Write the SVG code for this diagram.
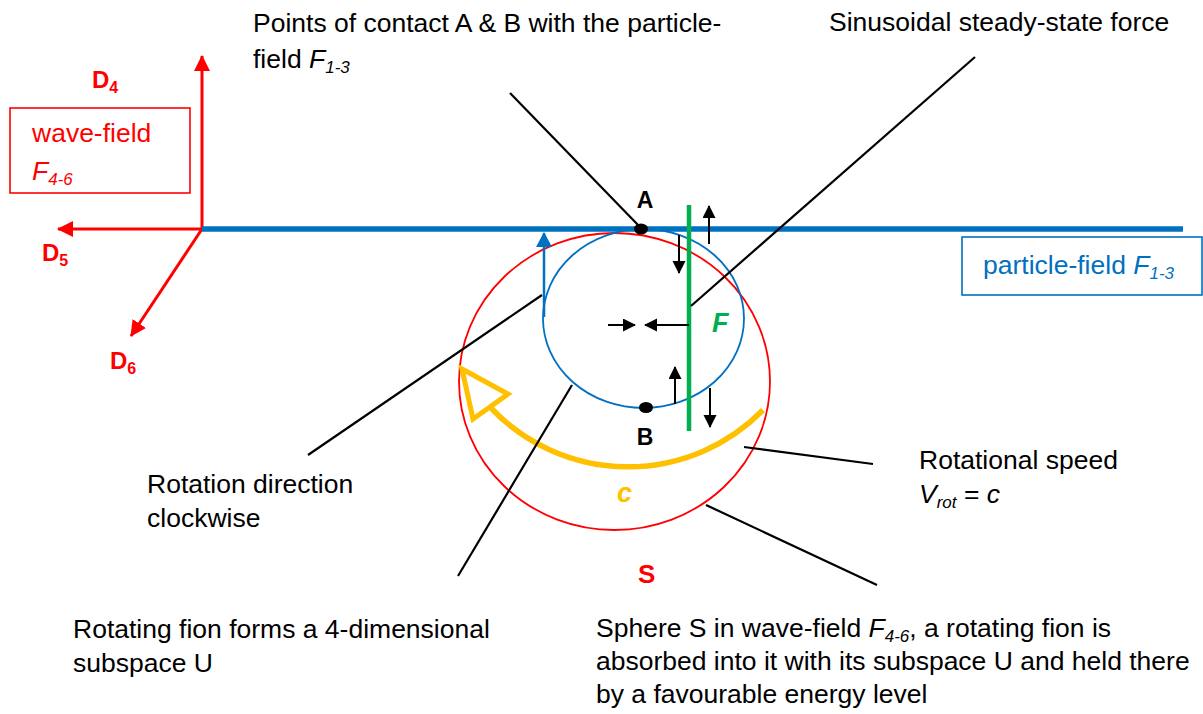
<svg xmlns="http://www.w3.org/2000/svg" width="1203" height="714" viewBox="0 0 1203 714">
<style>
text{font-family:"Liberation Sans",Arial,sans-serif;}
.t{font-size:26.5px;fill:#000;}
.i{font-style:italic;}
.sub{font-size:17px;font-style:italic;}
.red{fill:#FF0000;}
.b{font-weight:bold;}
.lead{stroke:#000;stroke-width:2.2;fill:none;}
.ar{stroke:#000;stroke-width:2;fill:none;}
.rax{stroke:#FF0000;stroke-width:3;fill:none;}
</style>
<defs>
<marker id="mb" markerUnits="userSpaceOnUse" markerWidth="14" markerHeight="14" refX="12" refY="6.5" orient="auto"><path d="M0,0 L13,6.5 L0,13 Z" fill="#000"/></marker>
<marker id="mr" markerUnits="userSpaceOnUse" markerWidth="18" markerHeight="18" refX="15" refY="8" orient="auto"><path d="M0,0 L16,8 L0,16 Z" fill="#FF0000"/></marker>
<marker id="mbl" markerUnits="userSpaceOnUse" markerWidth="18" markerHeight="18" refX="14" refY="8" orient="auto"><path d="M0,0 L15,8 L0,16 Z" fill="#0070C0"/></marker>
</defs>

<g id="axes">
<line class="rax" x1="202" y1="229" x2="202" y2="56" marker-end="url(#mr)"/>
<line class="rax" x1="202" y1="229" x2="58" y2="229" marker-end="url(#mr)"/>
<line class="rax" x1="202" y1="229" x2="131" y2="336" marker-end="url(#mr)"/>
<text class="red b" x="92" y="88" font-size="24">D<tspan font-size="16" dy="5">4</tspan></text>
<text class="red b" x="42" y="261" font-size="24">D<tspan font-size="16" dy="5">5</tspan></text>
<text class="red b" x="110" y="369" font-size="24">D<tspan font-size="16" dy="5">6</tspan></text>
</g>

<g id="wave-field-box">
<rect x="10" y="108" width="180" height="85" fill="none" stroke="#FF0000" stroke-width="1.6"/>
<text class="red" x="32" y="142" font-size="26.5">wave-field</text>
<text class="red i" x="32" y="180" font-size="26.5">F<tspan class="sub" dy="5">4-6</tspan></text>
</g>

<g id="particle-field-line">
<line x1="202" y1="229" x2="1183" y2="229" stroke="#0070C0" stroke-width="5.5"/>
</g>

<g id="particle-field-box">
<rect x="962" y="237" width="240" height="58" fill="#fff" stroke="#0070C0" stroke-width="1.6"/>
<text x="983" y="274" font-size="26.5" fill="#0070C0">particle-field <tspan class="i">F</tspan><tspan class="sub" dy="5">1-3</tspan></text>
</g>

<g id="sphere-S">
<ellipse cx="614.5" cy="381.5" rx="155.5" ry="148.5" fill="none" stroke="#FF0000" stroke-width="1.8"/>
<text class="red b" x="638" y="583" font-size="26">S</text>
</g>

<g id="subspace-U">
<ellipse cx="643.5" cy="318.5" rx="100.5" ry="89.5" fill="none" stroke="#0070C0" stroke-width="1.8"/>
<line x1="544" y1="317" x2="544" y2="233" stroke="#0070C0" stroke-width="2.5" marker-end="url(#mbl)"/>
</g>

<g id="contact-A">
<ellipse cx="641" cy="229" rx="7" ry="5.5" fill="#000"/>
<text x="645" y="208" font-size="23" font-weight="bold" text-anchor="middle">A</text>
</g>
<g id="contact-B">
<ellipse cx="646" cy="407.5" rx="7" ry="5.5" fill="#000"/>
<text x="645" y="445" font-size="23" font-weight="bold" text-anchor="middle">B</text>
</g>

<g id="force-F">
<line x1="689" y1="205" x2="689" y2="431" stroke="#00B050" stroke-width="4.5"/>
<text x="712" y="332" font-size="27" font-weight="bold" font-style="italic" fill="#00B050">F</text>
<line class="ar" x1="709" y1="244" x2="709" y2="206" marker-end="url(#mb)"/>
<line class="ar" x1="679" y1="235" x2="679" y2="273" marker-end="url(#mb)"/>
<line class="ar" x1="689" y1="325" x2="645" y2="325" marker-end="url(#mb)"/>
<line class="ar" x1="608" y1="325" x2="635" y2="325" marker-end="url(#mb)"/>
<line class="ar" x1="675" y1="404" x2="675" y2="367" marker-end="url(#mb)"/>
<line class="ar" x1="710" y1="388" x2="710" y2="427" marker-end="url(#mb)"/>
</g>

<g id="rotation-arrow">
<path d="M490,407 A189,189 0 0 0 763,410" fill="none" stroke="#FFC000" stroke-width="5.5"/>
<polygon points="462,369 508,394 473,419" fill="none" stroke="#FFC000" stroke-width="5" stroke-linejoin="miter"/>
<text x="617" y="502" font-size="27" font-weight="bold" font-style="italic" fill="#FFC000">c</text>
</g>

<g id="connectors">
<line class="lead" x1="510" y1="93" x2="639" y2="226"/>
<line class="lead" x1="975" y1="57" x2="691" y2="306"/>
<line class="lead" x1="542" y1="295" x2="308" y2="455"/>
<line class="lead" x1="572" y1="385" x2="458" y2="576"/>
<line class="lead" x1="744" y1="447" x2="873" y2="464"/>
<line class="lead" x1="706" y1="505" x2="877" y2="585"/>
</g>

<g id="label-contact">
<text class="t" x="253" y="32">Points of contact A &amp; B with the particle-</text>
<text class="t" x="253" y="68">field <tspan class="i">F</tspan><tspan class="sub" dy="5">1-3</tspan></text>
</g>
<g id="label-force">
<text class="t" x="829" y="31">Sinusoidal steady-state force</text>
</g>
<g id="label-rotation">
<text class="t" x="147" y="493">Rotation direction</text>
<text class="t" x="147" y="527">clockwise</text>
</g>
<g id="label-speed">
<text class="t" x="919" y="469">Rotational speed</text>
<text class="t" x="919" y="503"><tspan class="i">V</tspan><tspan class="sub" dy="5">rot</tspan><tspan dy="-5"> = </tspan><tspan class="i">c</tspan></text>
</g>
<g id="label-fion">
<text class="t" x="73" y="638">Rotating fion forms a 4-dimensional</text>
<text class="t" x="73" y="672">subspace U</text>
</g>
<g id="label-sphere">
<text class="t" x="596" y="637">Sphere S in wave-field <tspan class="i">F</tspan><tspan class="sub" dy="5">4-6</tspan><tspan dy="-5">, a rotating fion is</tspan></text>
<text class="t" x="596" y="670">absorbed into it with its subspace U and held there</text>
<text class="t" x="596" y="703">by a favourable energy level</text>
</g>
</svg>
